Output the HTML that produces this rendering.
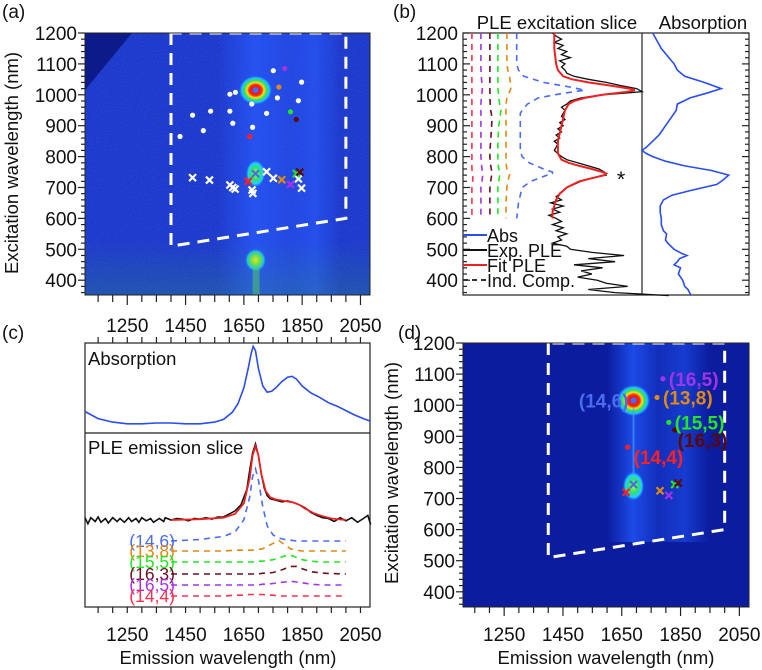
<!DOCTYPE html>
<html><head><meta charset="utf-8"><style>
html,body{margin:0;padding:0;background:#fff;}
svg{display:block;font-family:"Liberation Sans",Arial,sans-serif;}
</style></head><body>
<svg id="fig" width="762" height="670" viewBox="0 0 762 670" xmlns="http://www.w3.org/2000/svg">
<defs>
<radialGradient id="hot" cx="0.5" cy="0.5" r="0.5">
<stop offset="0" stop-color="#3040ff"/><stop offset="0.16" stop-color="#3040ff"/>
<stop offset="0.22" stop-color="#ff1010"/><stop offset="0.38" stop-color="#ff3000"/>
<stop offset="0.5" stop-color="#f0e020"/><stop offset="0.66" stop-color="#30e060"/>
<stop offset="0.82" stop-color="#20c0ff"/><stop offset="1" stop-color="#2050ff" stop-opacity="0"/>
</radialGradient>
<radialGradient id="warm" cx="0.5" cy="0.5" r="0.5">
<stop offset="0" stop-color="#a0ff40"/><stop offset="0.45" stop-color="#30e070"/>
<stop offset="0.75" stop-color="#20d0ff"/><stop offset="1" stop-color="#2050ff" stop-opacity="0"/>
</radialGradient>
<radialGradient id="yel" cx="0.5" cy="0.5" r="0.5">
<stop offset="0" stop-color="#e0e030"/><stop offset="0.4" stop-color="#70e040"/>
<stop offset="0.75" stop-color="#20c0e0"/><stop offset="1" stop-color="#2050ff" stop-opacity="0"/>
</radialGradient>
<linearGradient id="bandA" x1="0" x2="1" y1="0" y2="0">
<stop offset="0" stop-color="#2a5cff" stop-opacity="0"/><stop offset="0.3" stop-color="#2a5cff" stop-opacity="0.7"/>
<stop offset="0.6" stop-color="#2a5cff" stop-opacity="0.4"/><stop offset="0.8" stop-color="#2a5cff" stop-opacity="0.6"/>
<stop offset="1" stop-color="#2a5cff" stop-opacity="0"/>
</linearGradient>
<linearGradient id="bandD" x1="0" x2="1" y1="0" y2="0">
<stop offset="0" stop-color="#1e50f0" stop-opacity="0"/><stop offset="0.25" stop-color="#1e50f0" stop-opacity="0.9"/>
<stop offset="0.5" stop-color="#1e50f0" stop-opacity="0.35"/><stop offset="0.75" stop-color="#1e50f0" stop-opacity="0.6"/>
<stop offset="1" stop-color="#1e50f0" stop-opacity="0"/>
</linearGradient>
<linearGradient id="botA" x1="0" x2="0" y1="0" y2="1">
<stop offset="0" stop-color="#30a060" stop-opacity="0"/><stop offset="1" stop-color="#30a060" stop-opacity="0.25"/>
</linearGradient>
<filter id="noise" x="0" y="0" width="1" height="1">
<feTurbulence type="fractalNoise" baseFrequency="0.9" numOctaves="1" seed="3"/>
<feColorMatrix values="0 0 0 0 0.05  0 0 0 0 0.15  0 0 0 0 0.8  0 0 0 0.6 -0.15"/>
<feComposite in2="SourceGraphic" operator="in"/>
</filter>
<clipPath id="clipA"><rect x="85" y="33" width="285" height="262"/></clipPath>
<clipPath id="clipD"><rect x="463" y="343" width="286" height="264"/></clipPath>
</defs>
<g id="root"></g>
</svg>
<script>
// ---------- data ----------
const excTicks = [400,500,600,700,800,900,1000,1100,1200];
const emTicks = [1250,1450,1650,1850,2050];
const chirLabels = ["(14,6)","(13,8)","(16,5)","(15,5)","(16,3)","(14,4)"];
const chirColors = ["#4a6cf0","#e08a10","#a433e8","#22e622","#5a0808","#ff2020"];
const chirEm11 = [1690,1770,1790,1810,1830,1670];
const chirEx22 = [1015,1025,1085,945,920,865];
const crossEm = [1690,1780,1810,1830,1842,1665];
const crossEx = [745,725,710,745,750,720];
const whiteDotEm = [1431,1474,1511,1536,1602,1612,1602,1621,1677,1680,1751,1765,1728,1837,1848];
const whiteDotEx = [865,934,884,947,947,908,1002,1008,970,895,1078,990,940,981,1041];
const whiteCrossEm = [1474,1532,1602,1612,1620,1678,1681,1728,1751,1837,1848];
const whiteCrossEx = [732,724,708,700,695,692,681,751,730,728,698];
const expExc = [1200,1190,1180,1170,1160,1150,1140,1130,1120,1110,1100,1090,1080,1070,1060,1050,1040,1030,1020,1010,1000,990,980,970,960,950,940,930,920,910,900,890,880,870,860,850,840,830,820,810,800,790,780,770,760,750,740,730,720,710,700,690,680,670,660,650,640,630,620,610,600,590,580,570,560,550,540,530,520,510,500,490,480,470,460,450,440,430,420,410,400,390,380,370,360,350];
const expVal = [0.50,0.52,0.55,0.51,0.56,0.53,0.58,0.55,0.60,0.54,0.57,0.55,0.57,0.58,0.62,0.70,0.80,0.88,0.97,1.0,0.78,0.66,0.60,0.58,0.55,0.57,0.56,0.55,0.57,0.54,0.56,0.53,0.55,0.52,0.54,0.51,0.53,0.52,0.51,0.53,0.55,0.58,0.64,0.70,0.76,0.79,0.80,0.72,0.66,0.62,0.58,0.56,0.54,0.52,0.55,0.49,0.56,0.50,0.54,0.48,0.52,0.55,0.50,0.56,0.52,0.58,0.53,0.55,0.50,0.58,0.60,0.72,0.90,0.70,0.85,0.62,0.78,0.66,0.72,0.64,0.75,0.80,0.92,0.70,0.85,1.15];
const fitExc = [1200,1150,1100,1080,1060,1050,1040,1030,1020,1015,1010,1000,990,980,970,950,900,850,810,790,780,770,760,750,745,740,730,720,700,680,660,640,620,600];
const fitVal = [0.51,0.51,0.52,0.53,0.56,0.61,0.70,0.82,0.93,0.96,0.92,0.78,0.68,0.62,0.59,0.57,0.55,0.53,0.53,0.55,0.59,0.65,0.72,0.78,0.80,0.79,0.72,0.65,0.58,0.54,0.52,0.51,0.50,0.50];
const compExc = [1200,1100,1080,1060,1040,1025,1015,1005,990,970,950,940,920,900,850,820,800,780,760,750,745,740,720,700,650,600];
const compBlue = [0.30,0.30,0.31,0.34,0.45,0.60,0.68,0.56,0.42,0.36,0.33,0.32,0.32,0.32,0.32,0.32,0.33,0.37,0.45,0.50,0.50,0.47,0.38,0.33,0.31,0.30];
const compOrange = [0.245,0.245,0.25,0.26,0.265,0.268,0.265,0.255,0.245,0.24,0.24,0.24,0.24,0.24,0.24,0.24,0.24,0.24,0.245,0.255,0.26,0.26,0.25,0.245,0.24,0.24];
const compGreen = [0.195,0.195,0.195,0.195,0.195,0.195,0.196,0.198,0.20,0.205,0.212,0.21,0.205,0.20,0.195,0.195,0.195,0.195,0.20,0.205,0.205,0.205,0.20,0.195,0.195,0.195];
const compDark = [0.15,0.15,0.15,0.15,0.15,0.15,0.15,0.15,0.15,0.152,0.155,0.158,0.162,0.16,0.155,0.15,0.15,0.152,0.158,0.162,0.162,0.16,0.155,0.15,0.15,0.15];
const compPurple = [0.10,0.10,0.10,0.102,0.105,0.108,0.108,0.105,0.102,0.10,0.10,0.10,0.10,0.10,0.10,0.10,0.10,0.102,0.106,0.108,0.11,0.11,0.106,0.10,0.10,0.10];
const compRed = [0.05,0.05,0.05,0.05,0.05,0.05,0.05,0.05,0.05,0.05,0.05,0.05,0.05,0.05,0.05,0.05,0.05,0.05,0.05,0.052,0.054,0.056,0.054,0.05,0.05,0.05];
const absExc = [1200,1150,1100,1080,1060,1040,1020,1005,990,970,950,930,900,870,850,830,820,810,800,785,770,755,740,725,710,690,675,660,640,620,600,580,560,550,530,520,500,485,480,470,460,450,440,420,400,380,370,350];
const absVal = [0.10,0.18,0.30,0.33,0.40,0.58,0.74,0.60,0.45,0.33,0.32,0.28,0.22,0.16,0.10,0.04,0.0,0.04,0.10,0.22,0.40,0.65,0.81,0.76,0.70,0.45,0.28,0.20,0.17,0.17,0.18,0.18,0.20,0.23,0.22,0.24,0.30,0.38,0.42,0.35,0.33,0.30,0.36,0.34,0.38,0.40,0.43,0.46];
const cAbsEm = [1105,1150,1200,1250,1300,1350,1400,1450,1500,1550,1580,1610,1630,1650,1665,1675,1682,1690,1700,1715,1730,1745,1760,1780,1800,1815,1830,1850,1880,1910,1940,1970,2000,2030,2060,2085];
const cAbsVal = [0.21,0.13,0.09,0.07,0.07,0.08,0.08,0.07,0.07,0.09,0.12,0.20,0.30,0.48,0.70,0.87,0.95,0.90,0.70,0.50,0.43,0.44,0.48,0.55,0.60,0.61,0.58,0.50,0.42,0.37,0.31,0.27,0.22,0.17,0.13,0.10];
const cExpEm = [1105,1115,1125,1140,1150,1160,1175,1185,1200,1215,1225,1240,1255,1265,1280,1290,1300,1315,1330,1340,1360,1375,1380,1400,1420,1440,1460,1480,1500,1520,1540,1560,1580,1600,1620,1640,1660,1670,1680,1690,1700,1710,1720,1730,1740,1760,1780,1800,1820,1840,1860,1880,1900,1920,1940,1960,1980,2000,2020,2040,2060,2075,2085];
const cExpVal = [0.03,-0.05,0.03,-0.02,0.04,-0.03,0.02,-0.04,0.03,-0.02,0.02,-0.03,0.03,-0.02,0.02,-0.03,0.03,-0.01,0.02,-0.03,0.02,-0.02,0.03,0.00,0.02,0.01,-0.01,0.02,0.01,0.03,0.01,0.04,0.04,0.08,0.12,0.20,0.40,0.65,0.88,1.0,0.85,0.60,0.42,0.32,0.28,0.26,0.24,0.25,0.23,0.20,0.16,0.10,0.06,0.03,0.02,-0.02,0.03,-0.01,0.03,-0.03,0.02,0.06,-0.06];
const cFitEm = [1400,1500,1580,1620,1650,1670,1680,1690,1700,1710,1725,1740,1760,1790,1820,1840,1860,1890,1920,1950,2000];
const cFitVal = [0.0,0.01,0.03,0.08,0.22,0.55,0.85,0.97,0.85,0.60,0.38,0.30,0.27,0.25,0.23,0.20,0.15,0.09,0.05,0.02,0.0];
const cCompEm = [1400,1500,1580,1620,1650,1670,1680,1690,1700,1715,1730,1750,1770,1790,1810,1830,1850,1880,1920,2000];
const cBlue = [0.0,0.02,0.06,0.12,0.28,0.58,0.85,0.95,0.80,0.45,0.20,0.08,0.04,0.02,0.01,0.0,0.0,0.0,0.0,0.0];
const cOrange = [0.0,0.0,0.0,0.01,0.01,0.01,0.01,0.02,0.02,0.03,0.06,0.10,0.14,0.08,0.03,0.01,0.0,0.0,0.0,0.0];
const cGreen = [0.0,0.0,0.0,0.0,0.0,0.0,0.0,0.01,0.01,0.01,0.02,0.03,0.05,0.08,0.09,0.06,0.03,0.01,0.0,0.0];
const cDark = [0.0,0.0,0.0,0.0,0.0,0.0,0.0,0.0,0.0,0.01,0.01,0.02,0.04,0.07,0.10,0.10,0.07,0.03,0.01,0.0];
const cPurple = [0.0,0.0,0.0,0.0,0.0,0.0,0.0,0.0,0.0,0.01,0.01,0.02,0.03,0.04,0.05,0.04,0.03,0.01,0.0,0.0];
const cRed = [0.0,0.0,0.0,0.01,0.01,0.02,0.02,0.02,0.02,0.02,0.01,0.01,0.0,0.0,0.0,0.0,0.0,0.0,0.0,0.0];

// ---------- helpers ----------
const NS = "http://www.w3.org/2000/svg";
const root = document.getElementById('root');
function mk(tag, attrs, parent){ const e=document.createElementNS(NS,tag); for(const k in attrs) e.setAttribute(k,attrs[k]); (parent||root).appendChild(e); return e; }
function txt(s, x, y, size, anchor, fill, parent){ const t=mk('text',{x:x,y:y,'font-size':size,'text-anchor':anchor||'middle',fill:fill||'#111'},parent); t.textContent=s; return t; }
function path(xs, ys){ return xs.map((x,i)=>(i?'L':'M')+x.toFixed(1)+','+ys[i].toFixed(1)).join(''); }
const exA = nm => 85 + (nm-1105)*0.2915;
const eyA = nm => 33 + (1200-nm)*0.309;
const exD = nm => 463 + (nm-1110)*0.294;
const eyD = nm => 343 + (1200-nm)*0.311;
const bxL = v => 463 + v*179;
const bxR = v => 642 + v*107;
const TF = 19, AF = 18.5;

// ---------- panel (a) ----------
const gA = mk('g',{'clip-path':'url(#clipA)'});


mk('rect',{x:85,y:33,width:285,height:262,fill:'#1a34c8'},gA);
mk('rect',{x:85,y:33,width:285,height:262,fill:'#1a34c8',filter:'url(#noise)'},gA);
mk('polygon',{points:'85,33 132,33 85,90',fill:'#0c1a8a'},gA);
mk('rect',{x:exA(1560),y:33,width:exA(1980)-exA(1560),height:262,fill:'url(#bandA)'},gA);
mk('rect',{x:85,y:240,width:285,height:55,fill:'url(#botA)'},gA);
mk('ellipse',{cx:exA(1690),cy:eyA(1015),rx:17,ry:15,fill:'url(#hot)'},gA);
mk('ellipse',{cx:exA(1690),cy:eyA(745),rx:10,ry:14,fill:'url(#warm)'},gA);
mk('ellipse',{cx:exA(1690),cy:eyA(465),rx:11,ry:12,fill:'url(#yel)'},gA);
mk('rect',{x:exA(1680),y:eyA(440),width:7,height:eyA(350)-eyA(440),fill:'#50d060',opacity:0.5},gA);
mk('path',{d:'M'+exA(1400)+','+eyA(1200)+'L'+exA(1400)+','+eyA(510)+'L'+exA(2000)+','+eyA(600)+'L'+exA(2000)+','+eyA(1200)+'Z',fill:'none',stroke:'#fff','stroke-width':3,'stroke-dasharray':'12,8'},gA);
whiteDotEm.forEach((e,i)=>{ const c=mk('circle',{cx:exA(e),cy:eyA(whiteDotEx[i]),r:2.6,fill:'#fff'},gA);
   });
function cross(x,y,col,g,s){ mk('path',{d:`M${x-s},${y-s}L${x+s},${y+s}M${x-s},${y+s}L${x+s},${y-s}`,stroke:col,'stroke-width':2.2,fill:'none'},g); }
whiteCrossEm.forEach((e,i)=>cross(exA(e),eyA(whiteCrossEx[i]),'#fff',gA,3.5));
chirEm11.forEach((e,i)=>{ const c=mk('circle',{cx:exA(e),cy:eyA(chirEx22[i]),r:i==0?3:2.6,fill:chirColors[i]},gA);
   });
crossEm.forEach((e,i)=>cross(exA(e),eyA(crossEx[i]),chirColors[i],gA,3.5));
mk('rect',{x:85,y:33,width:285,height:262,fill:'none',stroke:'#222','stroke-width':1});
for(let nm=360;nm<=1200;nm+=20){ const y=eyA(nm); const maj=nm%100==0; mk('line',{x1:maj?78:81,x2:85,y1:y,y2:y,stroke:'#222','stroke-width':1.2}); }
excTicks.forEach(t=>txt(String(t),77,eyA(t)+7,TF,'end'));
for(let nm=1150;nm<=2050;nm+=50){ const x=exA(nm); mk('line',{x1:x,x2:x,y1:295,y2:nm%200==50?305:302,stroke:'#222','stroke-width':1.2}); }
emTicks.forEach(t=>txt(String(t),exA(t),332,TF));
const ta=txt('Excitation wavelength (nm)',0,0,AF); ta.setAttribute('transform','translate(18,163) rotate(-90)');

txt('(a)',2,18,19,'start');

// ---------- panel (b) ----------
mk('rect',{x:463,y:33,width:286,height:262,fill:'none',stroke:'#222','stroke-width':1.2});
mk('line',{x1:642,x2:642,y1:33,y2:295,stroke:'#222','stroke-width':1.2});
for(let nm=360;nm<=1200;nm+=20){ const y=eyA(nm); const maj=nm%100==0; mk('line',{x1:463,x2:maj?470:467,y1:y,y2:y,stroke:'#222','stroke-width':1.2}); mk('line',{x1:maj?742:745,x2:749,y1:y,y2:y,stroke:'#222','stroke-width':1.2}); }
excTicks.forEach(t=>txt(String(t),458,eyA(t)+7,TF,'end'));
txt('PLE excitation slice',557,29,18.5); txt('Absorption',703,29,18.5);
txt('(b)',393,18,19,'start');
const bcomps=[[compRed,'#ff3050'],[compPurple,'#a433e8'],[compDark,'#6a1020'],[compGreen,'#22e622'],[compOrange,'#e08a10'],[compBlue,'#4a6cf0']];
bcomps.forEach(([arr,col])=>{ const p=mk('path',{d:path(arr.map(bxL),compExc.map(eyA)),fill:'none',stroke:col,'stroke-width':1.6,'stroke-dasharray':'6,5'});
   });
const bexp=mk('path',{d:path(expVal.map(bxL),expExc.map(eyA)),fill:'none',stroke:'#111','stroke-width':1.3});
 
const bfit=mk('path',{d:path(fitVal.map(bxL),fitExc.map(eyA)),fill:'none',stroke:'#ee2020','stroke-width':2});
 
const babs=mk('path',{d:path(absVal.map(bxR),absExc.map(eyA)),fill:'none',stroke:'#2a4cf0','stroke-width':1.6});
 
txt('*',621,187,22);
const leg=[['Abs','#2a4cf0',''],['Exp. PLE','#111',''],['Fit PLE','#ee2020',''],['Ind. Comp.','#333','5,4']];
leg.forEach((l,i)=>{ const y=235+i*15; mk('line',{x1:463,x2:487,y1:y,y2:y,stroke:l[1],'stroke-width':2,'stroke-dasharray':l[2]||'none'}); const t=txt(l[0],487,y+7,18,'start');   });

// ---------- panel (c) ----------
mk('rect',{x:85,y:343,width:285,height:264,fill:'none',stroke:'#222','stroke-width':1.2});
mk('line',{x1:85,x2:370,y1:433,y2:433,stroke:'#222','stroke-width':1.2});
for(let nm=1150;nm<=2050;nm+=50){ const x=exA(nm); mk('line',{x1:x,x2:x,y1:337,y2:343,stroke:'#222','stroke-width':1.2}); mk('line',{x1:x,x2:x,y1:607,y2:613,stroke:'#222','stroke-width':1.2}); }
emTicks.forEach(t=>txt(String(t),exA(t),641,TF));
txt('Emission wavelength (nm)',228,664,AF);
txt('(c)',2,339,19,'start');
txt('Absorption',88,365,18.5,'start'); txt('PLE emission slice',88,454,18.5,'start');
const cAbsY = v => 430 - v*88;
const cabs=mk('path',{d:path(cAbsEm.map(exA),cAbsVal.map(cAbsY)),fill:'none',stroke:'#2a4cf0','stroke-width':1.6});
 
const cY = v => 520 - v*76;
const cexp=mk('path',{d:path(cExpEm.map(exA),cExpVal.map(cY)),fill:'none',stroke:'#111','stroke-width':1.6});
 
const cfit=mk('path',{d:path(cFitEm.map(exA),cFitVal.map(cY)),fill:'none',stroke:'#ee2020','stroke-width':1.8});
 
const cComps=[[cBlue,'#4a6cf0',541,'(14,6)'],[cOrange,'#e08a10',551,'(13,8)'],[cGreen,'#22e622',562,'(15,5)'],[cDark,'#6a1020',574,'(16,3)'],[cPurple,'#a433e8',585,'(16,5)'],[cRed,'#ff3050',596,'(14,4)']];
cComps.forEach(([arr,col,base,lab])=>{ const p=mk('path',{d:path(cCompEm.map(exA),arr.map(v=>base-v*76)),fill:'none',stroke:col,'stroke-width':1.6,'stroke-dasharray':'6,5'});
  
 txt(lab,175,base+6,17.5,'end',col); });

// ---------- panel (d) ----------
const gD = mk('g',{'clip-path':'url(#clipD)'});


mk('rect',{x:463,y:343,width:286,height:264,fill:'#0b1c9e'},gD);
mk('rect',{x:exD(1600),y:343,width:exD(1950)-exD(1600),height:eyD(560)-343,fill:'url(#bandD)'},gD);
mk('ellipse',{cx:exD(1690),cy:eyD(1015),rx:17,ry:16,fill:'url(#hot)'},gD);
mk('ellipse',{cx:exD(1690),cy:eyD(740),rx:11,ry:15,fill:'url(#warm)'},gD);
mk('line',{x1:exD(1690),x2:exD(1690),y1:eyD(990),y2:eyD(780),stroke:'#40a0ff','stroke-width':2,opacity:0.6},gD);
mk('path',{d:'M'+exD(1400)+','+eyD(1200)+'L'+exD(1400)+','+eyD(510)+'L'+exD(2000)+','+eyD(600)+'L'+exD(2000)+','+eyD(1200)+'Z',fill:'none',stroke:'#fff','stroke-width':3,'stroke-dasharray':'12,8'},gD);
chirEm11.forEach((e,i)=>{ const c=mk('circle',{cx:exD(e),cy:eyD(chirEx22[i]),r:i==0?3:2.6,fill:chirColors[i]},gD);
   });
crossEm.forEach((e,i)=>cross(exD(e),eyD(crossEx[i]),chirColors[i],gD,3.5));
const dLabDx=[-5,6,6,6,3,6], dLabDy=[7,7,7,7,17,17], dLabAnchor=['end','start','start','start','start','start'];
chirLabels.forEach((l,i)=>{ const t=txt(l,exD(chirEm11[i])+dLabDx[i],eyD(chirEx22[i])+dLabDy[i],19,dLabAnchor[i],chirColors[i],gD); t.setAttribute('font-weight','bold');   });
mk('rect',{x:463,y:343,width:286,height:264,fill:'none',stroke:'#222','stroke-width':1});
for(let nm=360;nm<=1200;nm+=20){ const y=eyD(nm); const maj=nm%100==0; mk('line',{x1:maj?456:459,x2:463,y1:y,y2:y,stroke:'#222','stroke-width':1.2}); }
excTicks.forEach(t=>txt(String(t),455,eyD(t)+7,TF,'end'));
for(let nm=1150;nm<=2050;nm+=50){ const x=exD(nm); mk('line',{x1:x,x2:x,y1:607,y2:nm%200==50?616:613,stroke:'#222','stroke-width':1.2}); }
emTicks.forEach(t=>txt(String(t),exD(t),641,TF));
txt('Emission wavelength (nm)',606,664,AF);
const td=txt('Excitation wavelength (nm)',0,0,AF); td.setAttribute('transform','translate(398,473) rotate(-90)');

txt('(d)',398,339,19,'start');
</script>
</body></html>
